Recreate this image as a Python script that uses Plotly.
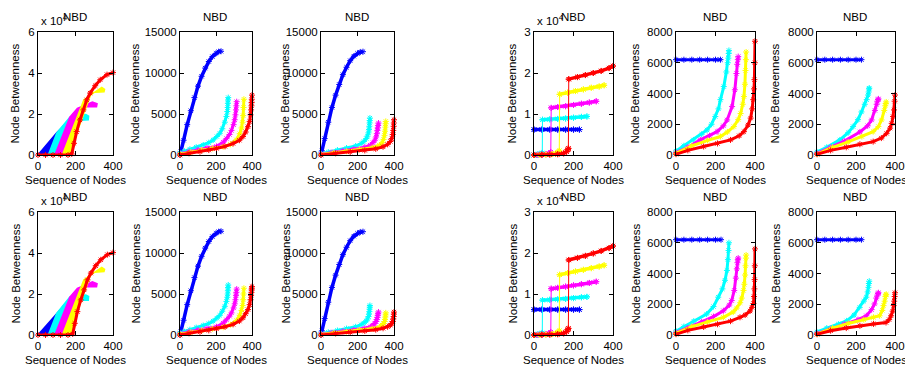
import plotly.graph_objects as go

W, H = 905, 367
COLORS = ["#0000ff", "#00ffff", "#ff00ff", "#ffff00", "#ff0000"]
FONT = "Liberation Sans, Arial, sans-serif"
FS = 11.5

# ---------------- Panel 1 (top): bands, values in units of 1e4 ----------------
P1T_BLUE_X = [0, 100, 140, 180]
P1T_BLUE_Y = [0, 1.08, 1.45, 0]
P1T_CYAN_X = [55, 100, 170, 255, 270, 268, 225, 200, 180]
P1T_CYAN_Y = [0, 1.07, 1.85, 1.98, 1.9, 1.72, 1.7, 0.9, 0]
P1T_MAG_X = [90, 170, 210, 290, 315, 312, 250, 200, 180]
P1T_MAG_Y = [0, 1.85, 2.28, 2.58, 2.5, 2.35, 2.35, 0.9, 0]
P1T_YEL_X = [130, 245, 340, 355, 352, 285, 200, 180]
P1T_YEL_Y = [0, 2.7, 3.3, 3.2, 3.08, 3.05, 0.9, 0]
P1T_RED_X = [0, 40, 80, 120, 160, 180, 192, 206, 224, 242, 260, 278, 305, 332, 368, 400]
P1T_RED_Y = [0, 0, 0, 0, 0, 0.05, 0.57, 1.14, 1.71, 2.2, 2.69, 3.02, 3.38, 3.67, 3.92, 4.02]

# ---------------- Panel 1 (bottom) ----------------
P1B_BLUE_X = [0, 100, 140, 180]
P1B_BLUE_Y = [0, 1.05, 1.45, 0]
P1B_CYAN_X = [55, 100, 170, 255, 270, 268, 225, 200, 180]
P1B_CYAN_Y = [0, 1.05, 1.85, 1.95, 1.88, 1.7, 1.7, 0.9, 0]
P1B_MAG_X = [90, 170, 210, 290, 315, 312, 250, 200, 180]
P1B_MAG_Y = [0, 1.85, 2.28, 2.6, 2.5, 2.35, 2.35, 0.9, 0]
P1B_YEL_X = [130, 245, 340, 355, 352, 285, 200, 180]
P1B_YEL_Y = [0, 2.7, 3.3, 3.2, 3.1, 3.05, 0.9, 0]
P1B_RED_X = [0, 40, 80, 120, 160, 185, 196, 210, 228, 246, 264, 282, 308, 335, 370, 400]
P1B_RED_Y = [0, 0, 0, 0, 0, 0.05, 0.57, 1.14, 1.71, 2.2, 2.69, 3.02, 3.38, 3.67, 3.92, 4.02]

# ---------------- Panel 2 ----------------
P2T_BLUE_X = [0, 5, 20, 40, 60, 80, 100, 120, 140, 160, 180, 200, 215, 228]
P2T_BLUE_Y = [0, 400, 1800, 3700, 5400, 7000, 8400, 9600, 10600, 11400, 12000, 12400, 12600, 12650]
P2T_CYAN_X = [0, 25, 55, 90, 129, 160, 184, 205, 221, 235, 249, 258, 263, 265, 266, 267, 268]
P2T_CYAN_Y = [250, 450, 700, 950, 1220, 1500, 1830, 2250, 2650, 3200, 4000, 4700, 5300, 5800, 6300, 6700, 7000]
P2T_MAG_X = [0, 50, 100, 150, 203, 240, 258, 275, 286, 298, 304, 308, 311, 313, 315]
P2T_MAG_Y = [150, 400, 650, 850, 1050, 1550, 2000, 2500, 3000, 3700, 4300, 4900, 5500, 6000, 6500]
P2T_YEL_X = [0, 60, 120, 180, 240, 280, 313, 332, 342, 348, 351, 353, 355]
P2T_YEL_Y = [100, 350, 600, 800, 1000, 1300, 1850, 2600, 3300, 4000, 4800, 5800, 6800]
P2T_RED_X = [0, 50, 111, 160, 203, 250, 295, 330, 350, 365, 378, 387, 392, 395, 397, 398, 399, 400]
P2T_RED_Y = [0, 200, 400, 600, 800, 1050, 1400, 1800, 2250, 2800, 3450, 4100, 4900, 5500, 6000, 6400, 6800, 7300]

P2B_BLUE_X = [0, 5, 20, 40, 60, 80, 100, 120, 140, 160, 180, 200, 215, 228]
P2B_BLUE_Y = [0, 400, 1800, 3700, 5400, 7000, 8400, 9600, 10600, 11400, 12000, 12400, 12600, 12650]
P2B_CYAN_X = [0, 25, 55, 90, 129, 160, 184, 205, 221, 235, 249, 258, 263, 265, 266, 267, 268]
P2B_CYAN_Y = [250, 400, 650, 900, 1150, 1400, 1700, 2050, 2400, 2900, 3500, 4100, 4600, 5000, 5400, 5800, 6100]
P2B_MAG_X = [0, 50, 100, 150, 203, 240, 258, 275, 286, 298, 304, 308, 311, 313, 315]
P2B_MAG_Y = [150, 400, 620, 800, 1000, 1450, 1850, 2300, 2700, 3300, 3800, 4300, 4800, 5200, 5600]
P2B_YEL_X = [0, 60, 120, 180, 240, 280, 313, 332, 342, 348, 351, 353, 355]
P2B_YEL_Y = [100, 330, 560, 760, 950, 1250, 1750, 2400, 3000, 3600, 4300, 5000, 5700]
P2B_RED_X = [0, 50, 111, 160, 203, 250, 295, 330, 350, 365, 378, 387, 392, 395, 397, 398, 399, 400]
P2B_RED_Y = [0, 200, 380, 560, 750, 1000, 1300, 1700, 2100, 2600, 3100, 3700, 4300, 4800, 5200, 5500, 5700, 5900]

# ---------------- Panel 3 ----------------
P3T_BLUE_X = [0, 5, 20, 40, 60, 80, 100, 120, 140, 160, 180, 200, 215, 230]
P3T_BLUE_Y = [0, 500, 2000, 4000, 5800, 7300, 8600, 9800, 10700, 11500, 12050, 12400, 12550, 12600]
P3T_CYAN_X = [0, 40, 90, 140, 190, 220, 235, 248, 255, 260, 263, 265, 266, 267, 268]
P3T_CYAN_Y = [150, 350, 600, 850, 1100, 1400, 1650, 2000, 2300, 2700, 3100, 3500, 3900, 4200, 4500]
P3T_MAG_X = [0, 60, 120, 180, 240, 270, 285, 295, 302, 306, 309, 311, 313, 315]
P3T_MAG_Y = [100, 300, 500, 700, 950, 1200, 1500, 1800, 2200, 2600, 3000, 3300, 3600, 3900]
P3T_YEL_X = [0, 70, 140, 210, 280, 320, 335, 343, 348, 351, 353, 354, 355]
P3T_YEL_Y = [50, 250, 450, 650, 900, 1200, 1500, 1900, 2400, 2900, 3400, 3800, 4100]
P3T_RED_X = [0, 80, 160, 240, 300, 340, 365, 380, 388, 393, 396, 398, 399, 400]
P3T_RED_Y = [0, 200, 380, 560, 750, 1000, 1300, 1650, 2000, 2500, 3000, 3500, 3900, 4300]

P3B_BLUE_X = [0, 5, 20, 40, 60, 80, 100, 120, 140, 160, 180, 200, 215, 230]
P3B_BLUE_Y = [0, 500, 2000, 4000, 5800, 7300, 8600, 9800, 10700, 11500, 12050, 12400, 12550, 12600]
P3B_CYAN_X = [0, 40, 90, 140, 190, 220, 235, 248, 255, 260, 263, 265, 266, 267, 268]
P3B_CYAN_Y = [150, 330, 550, 780, 1000, 1250, 1450, 1700, 1950, 2250, 2550, 2850, 3150, 3400, 3600]
P3B_MAG_X = [0, 60, 120, 180, 240, 270, 285, 295, 302, 306, 309, 311, 313, 315]
P3B_MAG_Y = [100, 280, 450, 620, 820, 1000, 1200, 1400, 1650, 1900, 2150, 2400, 2600, 2800]
P3B_YEL_X = [0, 70, 140, 210, 280, 320, 335, 343, 348, 351, 353, 354, 355]
P3B_YEL_Y = [50, 230, 400, 580, 780, 980, 1200, 1400, 1650, 1900, 2200, 2450, 2700]
P3B_RED_X = [0, 80, 160, 240, 300, 340, 365, 380, 388, 393, 396, 398, 399, 400]
P3B_RED_Y = [0, 180, 340, 500, 650, 820, 1000, 1200, 1400, 1650, 1950, 2250, 2550, 2800]

# ---------------- Panel 4 (values in units of 1e4) ----------------
P4T_BLUE_X = [0, 40, 80, 120, 160, 200, 230]
P4T_BLUE_Y = [0.62, 0.62, 0.62, 0.62, 0.62, 0.62, 0.62]
P4T_CYAN_X = [0, 10, 20, 30, 38, 42, 43, 80, 120, 160, 200, 240, 268]
P4T_CYAN_Y = [0, 0.005, 0.01, 0.02, 0.03, 0.05, 0.86, 0.87, 0.88, 0.89, 0.91, 0.93, 0.94]
P4T_MAG_X = [0, 20, 40, 60, 75, 85, 87, 120, 160, 200, 240, 280, 315]
P4T_MAG_Y = [0, 0.005, 0.01, 0.02, 0.04, 0.07, 1.15, 1.17, 1.19, 1.22, 1.25, 1.28, 1.31]
P4T_YEL_X = [0, 30, 60, 90, 110, 125, 128, 130, 170, 210, 250, 290, 330, 355]
P4T_YEL_Y = [0, 0.005, 0.01, 0.02, 0.04, 0.07, 0.1, 1.48, 1.52, 1.56, 1.6, 1.64, 1.67, 1.7]
P4T_RED_X = [0, 40, 80, 120, 150, 165, 172, 174, 176, 220, 260, 300, 340, 380, 400]
P4T_RED_Y = [0, 0.005, 0.01, 0.02, 0.04, 0.08, 0.13, 0.16, 1.85, 1.9, 1.95, 2.0, 2.05, 2.12, 2.17]

P4B_BLUE_X = [0, 40, 80, 120, 160, 200, 230]
P4B_BLUE_Y = [0.62, 0.62, 0.62, 0.62, 0.62, 0.62, 0.62]
P4B_CYAN_X = [0, 10, 20, 30, 38, 42, 43, 80, 120, 160, 200, 240, 268]
P4B_CYAN_Y = [0, 0.005, 0.01, 0.02, 0.03, 0.05, 0.85, 0.86, 0.87, 0.88, 0.9, 0.92, 0.93]
P4B_MAG_X = [0, 20, 40, 60, 75, 85, 87, 120, 160, 200, 240, 280, 315]
P4B_MAG_Y = [0, 0.005, 0.01, 0.02, 0.04, 0.07, 1.13, 1.15, 1.18, 1.21, 1.24, 1.27, 1.3]
P4B_YEL_X = [0, 30, 60, 90, 110, 125, 128, 130, 170, 210, 250, 290, 330, 355]
P4B_YEL_Y = [0, 0.005, 0.01, 0.02, 0.04, 0.07, 0.1, 1.47, 1.51, 1.55, 1.59, 1.63, 1.67, 1.7]
P4B_RED_X = [0, 40, 80, 120, 150, 165, 172, 174, 176, 220, 260, 300, 340, 380, 400]
P4B_RED_Y = [0, 0.005, 0.01, 0.02, 0.04, 0.08, 0.13, 0.16, 1.83, 1.88, 1.93, 1.99, 2.05, 2.12, 2.17]

# ---------------- Panel 5 ----------------
P5T_BLUE_X = [0, 40, 80, 120, 160, 200, 225]
P5T_BLUE_Y = [6200, 6200, 6200, 6200, 6200, 6200, 6200]
P5T_CYAN_X = [0, 40, 88, 130, 157, 180, 199, 215, 225, 242, 255, 262, 265, 267, 268]
P5T_CYAN_Y = [250, 600, 980, 1350, 1630, 2000, 2500, 3000, 3600, 4450, 5400, 6000, 6300, 6600, 6800]
P5T_MAG_X = [0, 60, 123, 170, 208, 240, 259, 284, 298, 306, 310, 313, 315]
P5T_MAG_Y = [150, 500, 980, 1250, 1520, 1900, 2280, 3150, 4240, 5300, 5900, 6200, 6400]
P5T_YEL_X = [0, 80, 160, 225, 260, 293, 315, 327, 338, 344, 349, 352, 354, 355]
P5T_YEL_Y = [100, 600, 950, 1200, 1500, 1850, 2300, 2700, 3300, 3800, 4600, 5500, 6200, 6700]
P5T_RED_X = [0, 60, 140, 210, 276, 320, 344, 365, 378, 386, 391, 395, 397, 399, 400]
P5T_RED_Y = [50, 300, 550, 750, 980, 1250, 1520, 1950, 2400, 3000, 3600, 4300, 4900, 6000, 7400]

P5B_BLUE_X = [0, 40, 80, 120, 160, 200, 228]
P5B_BLUE_Y = [6200, 6200, 6200, 6200, 6200, 6200, 6200]
P5B_CYAN_X = [0, 40, 90, 155, 190, 214, 235, 248, 258, 263, 266, 268]
P5B_CYAN_Y = [250, 550, 900, 1360, 1850, 2460, 3000, 3560, 4200, 4900, 5500, 6000]
P5B_MAG_X = [0, 60, 130, 190, 240, 270, 282, 295, 303, 308, 311, 313, 315]
P5B_MAG_Y = [150, 450, 850, 1200, 1580, 1950, 2240, 2900, 3700, 4300, 4700, 4900, 5000]
P5B_YEL_X = [0, 80, 160, 240, 290, 307, 325, 333, 342, 346, 350, 352, 354, 355]
P5B_YEL_Y = [100, 550, 850, 1150, 1500, 1750, 2100, 2400, 2900, 3300, 3900, 4500, 5000, 5200]
P5B_RED_X = [0, 60, 140, 210, 276, 324, 350, 375, 385, 392, 395, 397, 398, 399, 400]
P5B_RED_Y = [50, 300, 520, 700, 900, 1150, 1300, 1560, 1800, 2050, 2500, 3000, 3600, 4500, 5600]

# ---------------- Panel 6 ----------------
P6T_BLUE_X = [0, 40, 80, 120, 160, 200, 228]
P6T_BLUE_Y = [6200, 6200, 6200, 6200, 6200, 6200, 6200]
P6T_CYAN_X = [0, 50, 117, 160, 185, 210, 228, 245, 255, 262, 265, 267, 268]
P6T_CYAN_Y = [200, 500, 980, 1450, 1850, 2300, 2800, 3300, 3600, 3900, 4100, 4300, 4350]
P6T_MAG_X = [0, 70, 140, 220, 260, 280, 297, 306, 310, 313, 315]
P6T_MAG_Y = [100, 500, 900, 1500, 1900, 2280, 2900, 3300, 3500, 3600, 3650]
P6T_YEL_X = [0, 80, 160, 230, 288, 315, 331, 345, 350, 353, 355]
P6T_YEL_Y = [50, 500, 850, 1200, 1520, 1850, 2280, 2900, 3200, 3350, 3450]
P6T_RED_X = [0, 70, 150, 220, 288, 330, 357, 375, 383, 390, 395, 398, 400]
P6T_RED_Y = [50, 300, 500, 700, 870, 1100, 1410, 1750, 2060, 2500, 2930, 3500, 3900]

P6B_BLUE_X = [0, 40, 80, 120, 160, 200, 228]
P6B_BLUE_Y = [6200, 6200, 6200, 6200, 6200, 6200, 6200]
P6B_CYAN_X = [0, 50, 110, 152, 190, 219, 240, 253, 260, 264, 266, 268]
P6B_CYAN_Y = [200, 450, 700, 920, 1300, 1800, 2200, 2460, 2800, 3100, 3350, 3500]
P6B_MAG_X = [0, 70, 140, 210, 253, 280, 295, 304, 310, 313, 315]
P6B_MAG_Y = [100, 400, 700, 1000, 1250, 1650, 2020, 2400, 2600, 2700, 2750]
P6B_YEL_X = [0, 80, 160, 240, 290, 321, 335, 341, 347, 351, 353, 355]
P6B_YEL_Y = [50, 450, 750, 1000, 1150, 1250, 1600, 1910, 2200, 2500, 2600, 2650]
P6B_RED_X = [0, 70, 150, 220, 290, 354, 370, 380, 388, 393, 396, 398, 400]
P6B_RED_Y = [50, 280, 450, 600, 720, 813, 1000, 1250, 1550, 1910, 2200, 2500, 2750]

# ---------------- axes / layout (pixel boxes) ----------------
COL_PX = [(38, 113), (180, 252), (321, 394), (534, 613), (676, 755), (817, 895)]
ROW_PX = [(32, 155), (212, 335)]
YTITLE_X = [15, 135, 285, 512, 635, 775]
Y_RANGES = [(0, 6), (0, 15000), (0, 15000), (0, 3), (0, 8000), (0, 8000)]
Y_TICKS = [[0, 2, 4, 6], [0, 5000, 10000, 15000], [0, 5000, 10000, 15000],
           [0, 1, 2, 3], [0, 2000, 4000, 6000, 8000], [0, 2000, 4000, 6000, 8000]]
X_TICKS = [0, 200, 400]

PANELS = {
    (0, 0): ("poly", [(P1T_BLUE_X, P1T_BLUE_Y), (P1T_CYAN_X, P1T_CYAN_Y), (P1T_MAG_X, P1T_MAG_Y),
                      (P1T_YEL_X, P1T_YEL_Y), (P1T_RED_X, P1T_RED_Y)]),
    (1, 0): ("poly", [(P1B_BLUE_X, P1B_BLUE_Y), (P1B_CYAN_X, P1B_CYAN_Y), (P1B_MAG_X, P1B_MAG_Y),
                      (P1B_YEL_X, P1B_YEL_Y), (P1B_RED_X, P1B_RED_Y)]),
    (0, 1): ("line", [(P2T_BLUE_X, P2T_BLUE_Y), (P2T_CYAN_X, P2T_CYAN_Y), (P2T_MAG_X, P2T_MAG_Y),
                      (P2T_YEL_X, P2T_YEL_Y), (P2T_RED_X, P2T_RED_Y)]),
    (1, 1): ("line", [(P2B_BLUE_X, P2B_BLUE_Y), (P2B_CYAN_X, P2B_CYAN_Y), (P2B_MAG_X, P2B_MAG_Y),
                      (P2B_YEL_X, P2B_YEL_Y), (P2B_RED_X, P2B_RED_Y)]),
    (0, 2): ("line", [(P3T_BLUE_X, P3T_BLUE_Y), (P3T_CYAN_X, P3T_CYAN_Y), (P3T_MAG_X, P3T_MAG_Y),
                      (P3T_YEL_X, P3T_YEL_Y), (P3T_RED_X, P3T_RED_Y)]),
    (1, 2): ("line", [(P3B_BLUE_X, P3B_BLUE_Y), (P3B_CYAN_X, P3B_CYAN_Y), (P3B_MAG_X, P3B_MAG_Y),
                      (P3B_YEL_X, P3B_YEL_Y), (P3B_RED_X, P3B_RED_Y)]),
    (0, 3): ("step", [(P4T_BLUE_X, P4T_BLUE_Y), (P4T_CYAN_X, P4T_CYAN_Y), (P4T_MAG_X, P4T_MAG_Y),
                      (P4T_YEL_X, P4T_YEL_Y), (P4T_RED_X, P4T_RED_Y)]),
    (1, 3): ("step", [(P4B_BLUE_X, P4B_BLUE_Y), (P4B_CYAN_X, P4B_CYAN_Y), (P4B_MAG_X, P4B_MAG_Y),
                      (P4B_YEL_X, P4B_YEL_Y), (P4B_RED_X, P4B_RED_Y)]),
    (0, 4): ("line", [(P5T_BLUE_X, P5T_BLUE_Y), (P5T_CYAN_X, P5T_CYAN_Y), (P5T_MAG_X, P5T_MAG_Y),
                      (P5T_YEL_X, P5T_YEL_Y), (P5T_RED_X, P5T_RED_Y)]),
    (1, 4): ("line", [(P5B_BLUE_X, P5B_BLUE_Y), (P5B_CYAN_X, P5B_CYAN_Y), (P5B_MAG_X, P5B_MAG_Y),
                      (P5B_YEL_X, P5B_YEL_Y), (P5B_RED_X, P5B_RED_Y)]),
    (0, 5): ("line", [(P6T_BLUE_X, P6T_BLUE_Y), (P6T_CYAN_X, P6T_CYAN_Y), (P6T_MAG_X, P6T_MAG_Y),
                      (P6T_YEL_X, P6T_YEL_Y), (P6T_RED_X, P6T_RED_Y)]),
    (1, 5): ("line", [(P6B_BLUE_X, P6B_BLUE_Y), (P6B_CYAN_X, P6B_CYAN_Y), (P6B_MAG_X, P6B_MAG_Y),
                      (P6B_YEL_X, P6B_YEL_Y), (P6B_RED_X, P6B_RED_Y)]),
}


def fx(px):
    return px / W


def fy(py):
    return 1 - py / H


def band_trace(xs, ys, xref, yref, col, lw, msize, mode="lines+markers"):
    return go.Scatter(x=xs, y=ys, xaxis=xref, yaxis=yref, mode=mode, cliponaxis=False,
                      line=dict(color=col, width=lw),
                      marker=dict(symbol="asterisk-open", size=msize, color=col,
                                  line=dict(color=col, width=1)),
                      hoverinfo="skip")


fig = go.Figure()
layout = dict(width=W, height=H, margin=dict(l=0, r=0, t=0, b=0), showlegend=False,
              plot_bgcolor="white", paper_bgcolor="white",
              font=dict(family=FONT, size=FS, color="#000"))
annotations = []
TFONT = dict(size=FS, family=FONT, color="#000")

idx = 0
for r in range(2):
    for c in range(6):
        idx += 1
        xa = "xaxis" if idx == 1 else f"xaxis{idx}"
        ya = "yaxis" if idx == 1 else f"yaxis{idx}"
        xref = "x" if idx == 1 else f"x{idx}"
        yref = "y" if idx == 1 else f"y{idx}"
        x0, x1 = COL_PX[c]
        y0, y1 = ROW_PX[r]
        common = dict(showline=True, linecolor="black", linewidth=1, mirror="allticks",
                      ticks="inside", ticklen=4, tickcolor="black", showgrid=False, zeroline=False,
                      tickfont=TFONT, automargin=False)
        layout[xa] = dict(domain=[fx(x0), fx(x1)], range=[0, 400], tickvals=X_TICKS,
                          anchor=yref, **common)
        yt = Y_TICKS[c]
        layout[ya] = dict(domain=[fy(y1), fy(y0)], range=list(Y_RANGES[c]), tickvals=yt,
                          ticktext=[str(v) for v in yt], anchor=xref, **common)

        kind, series = PANELS[(r, c)]
        for k, (xs, ys) in enumerate(series):
            col = COLORS[k]
            if kind == "poly" and k < 4:
                fig.add_trace(go.Scatter(x=xs, y=ys, xaxis=xref, yaxis=yref, mode="lines",
                                         fill="toself", fillcolor=col,
                                         line=dict(color=col, width=1.5), hoverinfo="skip"))
            elif kind == "step":
                # thin full series (shows the vertical jump), thick bands either side of the jump
                fig.add_trace(band_trace(xs, ys, xref, yref, col, 1, 5))
                diffs = [abs(ys[i + 1] - ys[i]) for i in range(len(ys) - 1)]
                j = max(range(len(diffs)), key=lambda i: diffs[i])
                if diffs[j] > 0.3:
                    fig.add_trace(band_trace(xs[:j + 1], ys[:j + 1], xref, yref, col, 3, 5))
                    fig.add_trace(band_trace(xs[j + 1:], ys[j + 1:], xref, yref, col, 3.5, 5))
                else:
                    fig.add_trace(band_trace(xs, ys, xref, yref, col, 3.5, 5))
            else:
                lw = 3.5 if (k == 0 and c in (1, 2)) else 3
                fig.add_trace(band_trace(xs, ys, xref, yref, col, lw, 5))

        cx = (x0 + x1) / 2
        annotations.append(dict(text="NBD", x=fx(cx - 1), y=fy(y0 - 15), xref="paper", yref="paper",
                                showarrow=False, font=TFONT, xanchor="center", yanchor="middle"))
        annotations.append(dict(text="Sequence of Nodes", x=fx(cx), y=fy(y1 + 25), xref="paper",
                                yref="paper", showarrow=False, font=TFONT,
                                xanchor="center", yanchor="middle"))
        annotations.append(dict(text="Node Betweenness", x=fx(YTITLE_X[c]), y=fy((y0 + y1) / 2),
                                xref="paper", yref="paper", showarrow=False, textangle=-90,
                                font=TFONT, xanchor="center", yanchor="middle"))
        if c in (0, 3):
            annotations.append(dict(text="x 10<sup>4</sup>", x=fx(x0 + 1), y=fy(y0 - 12), xref="paper",
                                    yref="paper", showarrow=False, font=TFONT,
                                    xanchor="left", yanchor="middle"))

layout["annotations"] = annotations
fig.update_layout(**layout)
fig.write_html("out.html", config={"displayModeBar": False},
               post_script="document.body.style.margin='0px';")
